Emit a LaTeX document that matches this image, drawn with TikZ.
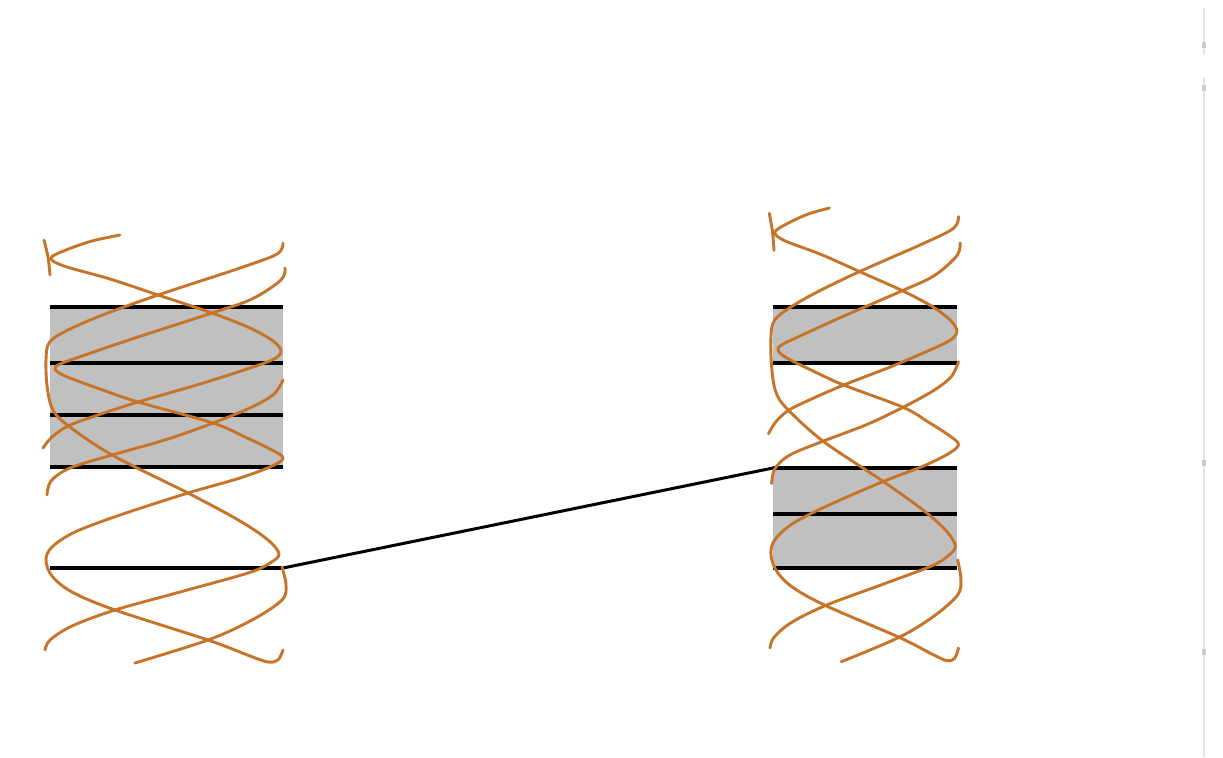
\documentclass[tikz,border=0pt]{standalone}
\definecolor{helixorange}{RGB}{198,116,42}
\definecolor{bandgrey}{RGB}{192,192,192}
\definecolor{edgegrey}{RGB}{230,230,230}
\tikzset{
  strand/.style={draw=helixorange, line width=1.45pt, line cap=round, line join=round},
  thickbar/.style={draw=black, line width=2.4pt},
  thinbar/.style={draw=black, line width=1.6pt},
  band/.style={fill=bandgrey, draw=none},
  link/.style={draw=black, line width=1.5pt},
  edgeline/.style={draw=edgegrey, line width=1pt},
  edgemark/.style={fill=gray!40, draw=none}
}
\newcommand\helixstrands{%
  % strand A
  \draw[strand] plot[smooth,tension=0.55] coordinates {(120,235) (92,241) (66,250) (51,258) (64,266) (110,279) (158,295) (212,313) (250,328) (273,341) (281,351) (274,359) (250,368) (200,384) (138,402) (95,416) (68,426) (52,437) (43,448)};
  % strand B (short arc)
  \draw[strand] plot[smooth,tension=0.55] coordinates {(44,240) (48,257) (50,275)};
  % strand Y
  \draw[strand] plot[smooth,tension=0.55] coordinates {(283,243) (277,254) (240,268) (158,295) (100,316) (64,332) (49,343) (46,360) (47,385) (52,408) (66,424) (112,455) (188,493) (240,521) (268,540) (279,554) (270,563) (248,573) (180,592) (115,610) (72,626) (50,640) (45,650)};
  % strand X
  \draw[strand] plot[smooth,tension=0.55] coordinates {(285,268) (281,280) (252,299) (212,313) (135,338) (85,355) (60,364) (55,369) (65,376) (100,389) (138,402) (213,423) (245,437) (272,450) (283,458) (272,466) (240,478) (188,493) (120,515) (75,532) (52,547) (46,560) (52,576) (72,592) (115,610) (208,640) (250,656) (268,662) (278,660) (283,650)};
  % strand Z
  \draw[strand] plot[smooth,tension=0.55] coordinates {(47,495) (51,481) (70,468) (112,455) (168,439) (213,423) (252,407) (274,394) (283,380)};
  % strand V
  \draw[strand] plot[smooth,tension=0.55] coordinates {(282,567) (286,585) (282,600) (252,620) (208,640) (135,663)};
}
\begin{document}
\begin{tikzpicture}[x=0.5pt,y=-0.5pt]
  \useasboundingbox (0,0) rectangle (1223,757);
  \fill[white] (0,0) rectangle (1223,757);

  % faint edge line at the right
  \draw[edgeline] (1204,8) -- (1204,55);
  \draw[edgeline] (1204,77) -- (1204,757);
  \path[edgemark] (1202,42) rectangle (1206,48);
  \path[edgemark] (1202,85) rectangle (1206,91);
  \path[edgemark] (1202,460) rectangle (1206,466);
  \path[edgemark] (1202,649) rectangle (1206,655);

  % left helix: band and bars
  \path[band] (50,307) rectangle (283,467);
  \draw[thinbar]  (50,307) -- (283,307);
  \draw[thickbar] (50,363) -- (283,363);
  \draw[thinbar]  (50,415) -- (283,415);
  \draw[thickbar] (50,467) -- (283,467);
  \draw[thickbar] (50,568) -- (283,568);
  \coordinate (Lbar) at (283,568);

  % right helix: bands and bars
  \path[band] (773,307) rectangle (957,363);
  \path[band] (773,468) rectangle (957,568);
  \draw[thinbar]  (773,307) -- (957,307);
  \draw[thickbar] (773,363) -- (957,363);
  \draw[thickbar] (773,468) -- (957,468);
  \draw[thinbar]  (773,514) -- (957,514);
  \draw[thickbar] (773,568) -- (957,568);
  \coordinate (Rbar) at (773,468);

  % connector
  \draw[link] (Lbar) -- (Rbar);

  % helices
  \begin{scope}
    \helixstrands
  \end{scope}
  \begin{scope}[shift={(734.45,-41.1)}, xscale=0.7917, yscale=1.06]
    \helixstrands
  \end{scope}
\end{tikzpicture}
\end{document}
